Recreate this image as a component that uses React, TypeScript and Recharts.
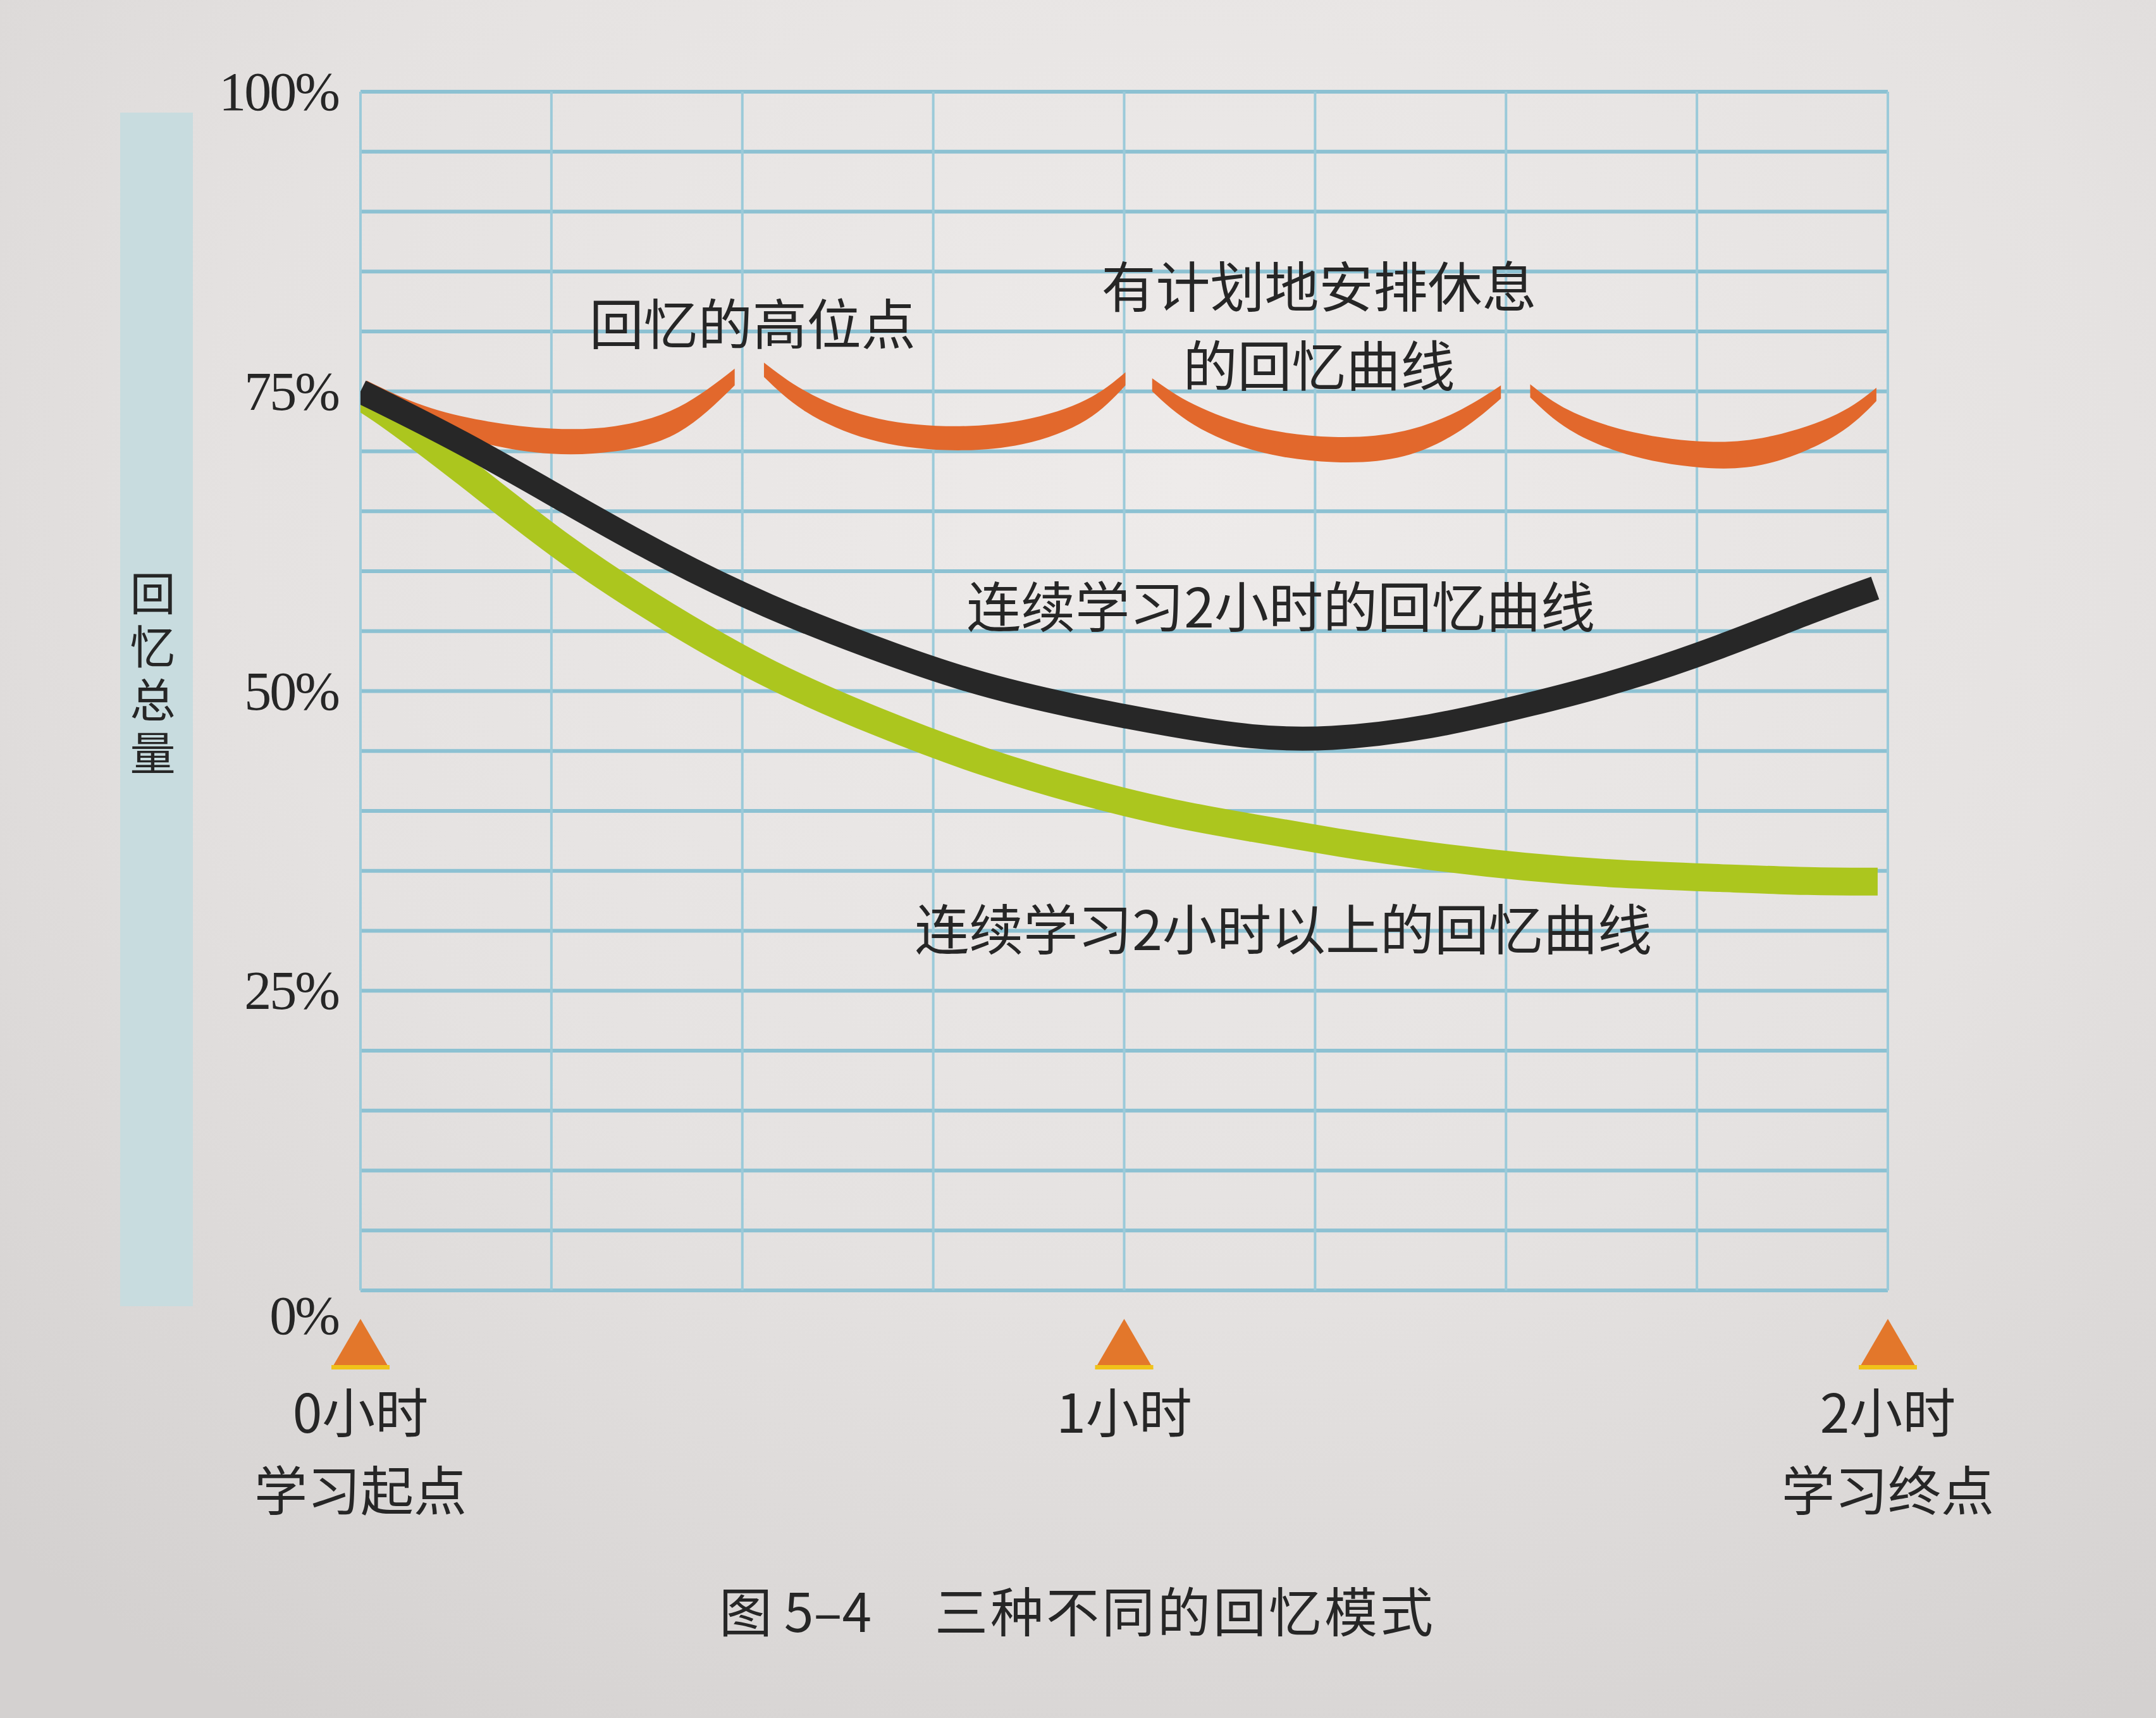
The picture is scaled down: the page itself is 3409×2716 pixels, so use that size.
import React from "react";
import {
  ComposedChart,
  Line,
  Area,
  XAxis,
  YAxis,
  CartesianGrid,
  ReferenceDot,
} from "recharts";

const W = 3409;
const H = 2716;

// axis ticks (minutes on x, percent on y)
const hourTicks = [0, 15, 30, 45, 60, 75, 90, 105, 120];
const percentTicks = [0, 5, 10, 15, 20, 25, 30, 35, 40, 45, 50, 55, 60, 65, 70, 75, 80, 85, 90, 95, 100];
const hourLabels: Record<number, string[]> = {
  0: ["0小时", "学习起点"],
  60: ["1小时"],
  120: ["2小时", "学习终点"],
};

// 连续学习2小时的回忆曲线 (black)
const continuous2h = [
  { x: 0, y: 75 }, { x: 8, y: 70.8 }, { x: 16, y: 65.9 }, { x: 24, y: 61.1 },
  { x: 32, y: 57 }, { x: 40, y: 53.7 }, { x: 48, y: 50.7 }, { x: 56, y: 48.7 },
  { x: 64, y: 47.1 }, { x: 70, y: 46.1 }, { x: 76, y: 45.9 }, { x: 84, y: 46.9 },
  { x: 92, y: 48.9 }, { x: 99, y: 50.8 }, { x: 107, y: 53.7 }, { x: 114, y: 56.7 },
  { x: 119, y: 58.6 },
];

// 连续学习2小时以上的回忆曲线 (green)
const over2h = [
  { x: 0, y: 74.6 }, { x: 2, y: 73.3 }, { x: 8, y: 68.5 }, { x: 16, y: 61.7 },
  { x: 24, y: 56.2 }, { x: 32, y: 51.3 }, { x: 41, y: 47.2 }, { x: 49, y: 44.0 },
  { x: 57, y: 41.5 }, { x: 64, y: 39.7 }, { x: 70, y: 38.6 }, { x: 77, y: 37.3 },
  { x: 84, y: 36.2 }, { x: 91.5, y: 35.3 }, { x: 99, y: 34.7 }, { x: 107, y: 34.4 },
  { x: 114, y: 34.1 }, { x: 119.2, y: 34.1 },
];

// 有计划地安排休息的回忆曲线 (orange crescents, [low, high])
const restArc1 = [
  { x: 0.5, r: [75.0, 75.9] }, { x: 5, r: [72.3, 73.8] }, { x: 10, r: [70.6, 72.5] },
  { x: 15, r: [69.8, 71.9] }, { x: 20, r: [70.0, 72.1] }, { x: 25, r: [71.6, 73.7] },
  { x: 29.4, r: [75.5, 76.9] },
];
const restArc2 = [
  { x: 31.7, r: [76.2, 77.4] }, { x: 35, r: [73.3, 75.0] }, { x: 40, r: [71.0, 72.9] },
  { x: 46, r: [70.1, 72.1] }, { x: 52, r: [70.6, 72.6] }, { x: 57, r: [72.6, 74.3] },
  { x: 60.1, r: [75.5, 76.6] },
];
const restArc3 = [
  { x: 62.2, r: [75.0, 76.1] }, { x: 65.5, r: [72.2, 73.9] }, { x: 70.5, r: [70.0, 72.0] },
  { x: 76.4, r: [69.1, 71.2] }, { x: 82, r: [69.6, 71.7] }, { x: 86.5, r: [71.8, 73.5] },
  { x: 89.6, r: [74.4, 75.5] },
];
const restArc4 = [
  { x: 91.9, r: [74.5, 75.6] }, { x: 95, r: [71.8, 73.4] }, { x: 100, r: [69.6, 71.6] },
  { x: 105.9, r: [68.6, 70.8] }, { x: 111, r: [69.1, 71.3] }, { x: 116, r: [71.4, 73.1] },
  { x: 119.1, r: [74.2, 75.3] },
];
const restArcs = [restArc1, restArc2, restArc3, restArc4];

// in-plot notes (data coords)
const notes = [
  { x: 30.8, y: 80.5, lines: ["回忆的高位点"] },
  { x: 75.3, y: 83.6, lines: ["有计划地安排休息", "的回忆曲线"] },
  { x: 72.3, y: 56.9, lines: ["连续学习2小时的回忆曲线"] },
  { x: 72.5, y: 30.0, lines: ["连续学习2小时以上的回忆曲线"] },
];

const CJK = "'Noto Sans CJK SC', 'Noto Sans', sans-serif";
const INK = "#262626";

function PercentTick({ x, y, payload }: any) {
  const v = payload.value;
  if (v % 25 !== 0) return <g />;
  return (
    <text
      x={x}
      y={v === 0 ? y + 40 : y}
      dy="0.34em"
      textAnchor="end"
      fontFamily="'Liberation Serif', serif"
      fontSize={86}
      letterSpacing={-3}
      fill={INK}
    >
      {v}%
    </text>
  );
}

function HourTick({ x, y, payload }: any) {
  const lines = hourLabels[payload.value];
  if (!lines) return <g />;
  return (
    <g>
      <polygon points={`${x},${y + 45} ${x - 46},${y + 124} ${x + 46},${y + 124}`} fill="#e3772b" />
      <rect x={x - 46} y={y + 118} width={92} height={7} fill="#f0c21a" />
      {lines.map((t, i) => (
        <text
          key={t}
          x={x}
          y={y + 196 + i * 123}
          dy="0.35em"
          textAnchor="middle"
          fontFamily={CJK}
          fontSize={84}
          fill={INK}
        >
          {t}
        </text>
      ))}
    </g>
  );
}

function NoteLabel({ viewBox, lines }: any) {
  const cx = viewBox.x + (viewBox.width || 0) / 2;
  const cy = viewBox.y + (viewBox.height || 0) / 2;
  return (
    <g>
      {lines.map((l: string, i: number) => (
        <text
          key={l}
          x={cx}
          y={cy + i * 125}
          dy="0.35em"
          textAnchor="middle"
          fontFamily={CJK}
          fontSize={86}
          fill={INK}
        >
          {l}
        </text>
      ))}
    </g>
  );
}

export default function App() {
  return (
    <div
      style={{
        position: "absolute",
        left: 0,
        top: 0,
        width: W,
        height: H,
        overflow: "hidden",
        background:
          "radial-gradient(ellipse 80% 85% at 55% 28%, #eeebea 0%, #e5e2e1 55%, #d4d1d0 100%)",
      }}
    >
      {/* y axis title band */}
      <div
        style={{
          position: "absolute",
          left: 190,
          top: 178,
          width: 115,
          height: 1887,
          background: "#c8dcdf",
        }}
      />
      <div
        style={{
          position: "absolute",
          left: 204,
          top: 902,
          fontFamily: CJK,
          fontSize: 72,
          letterSpacing: 12,
          lineHeight: "74px",
          color: INK,
          writingMode: "vertical-rl",
        }}
      >
        回忆总量
      </div>

      <div style={{ position: "absolute", left: 0, top: 0 }}>
        <ComposedChart
          width={W}
          height={H}
          margin={{ top: 145, right: 424, bottom: 76, left: 170 }}
        >
          <CartesianGrid vertical={false} stroke="#8cc1d2" strokeWidth={6} />
          <CartesianGrid horizontal={false} stroke="#9bcad9" strokeWidth={4} />
          <XAxis
            type="number"
            dataKey="x"
            domain={[0, 120]}
            ticks={hourTicks}
            allowDataOverflow
            axisLine={false}
            tickLine={false}
            tickSize={0}
            tickMargin={0}
            height={600}
            interval={0}
            tick={<HourTick />}
          />
          <YAxis
            type="number"
            domain={[0, 100]}
            ticks={percentTicks}
            allowDataOverflow
            axisLine={false}
            tickLine={false}
            tickSize={0}
            tickMargin={35}
            width={400}
            interval={0}
            tick={<PercentTick />}
          />
          {restArcs.map((arc, i) => (
            <Area
              key={`arc-${i}`}
              data={arc}
              dataKey="r"
              type="natural"
              stroke="none"
              fill="#e2682c"
              fillOpacity={1}
              isAnimationActive={false}
              activeDot={false}
            />
          ))}
          <Line
            data={over2h}
            dataKey="y"
            type="basis"
            stroke="#acc61e"
            strokeWidth={44}
            strokeLinecap="butt"
            dot={false}
            activeDot={false}
            isAnimationActive={false}
          />
          <Line
            data={continuous2h}
            dataKey="y"
            type="basis"
            stroke="#272727"
            strokeWidth={38}
            strokeLinecap="butt"
            dot={false}
            activeDot={false}
            isAnimationActive={false}
          />
          {notes.map((n) => (
            <ReferenceDot
              key={n.lines[0]}
              x={n.x}
              y={n.y}
              r={0}
              fill="none"
              stroke="none"
              label={<NoteLabel lines={n.lines} />}
            />
          ))}
        </ComposedChart>
      </div>

      {/* caption */}
      <div
        style={{
          position: "absolute",
          left: 1137,
          top: 2490,
          fontFamily: CJK,
          fontSize: 84,
          lineHeight: "108px",
          color: INK,
          whiteSpace: "pre",
        }}
      >
        <span>图 5–4</span>
        <span style={{ marginLeft: 100, letterSpacing: 4 }}>三种不同的回忆模式</span>
      </div>
    </div>
  );
}
